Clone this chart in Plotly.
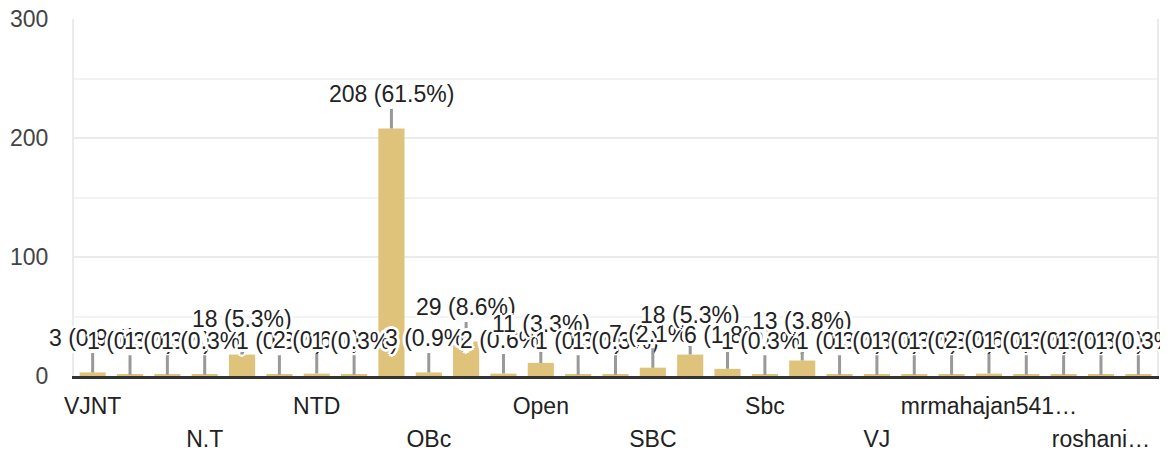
import plotly.graph_objects as go

# ---------------- data ----------------
categories = [
    "VJNT", "other 1", "other 2", "N.T", "other 4", "other 5", "NTD", "other 7",
    "other 8", "OBc", "other 10", "other 11", "Open", "other 13", "other 14",
    "SBC", "other 16", "other 17", "Sbc", "other 19", "other 20", "VJ",
    "other 22", "other 23", "mrmahajan541…", "other 25", "other 26",
    "roshani…", "other 28",
]
counts = [3, 1, 1, 1, 18, 1, 2, 1, 208, 3, 29, 2, 11, 1, 1, 7, 18, 6, 1, 13,
          1, 1, 1, 1, 2, 1, 1, 1, 1]
row1_labels = ["VJNT", "NTD", "Open", "Sbc", "mrmahajan541…"]
row2_labels = ["N.T", "OBc", "SBC", "VJ", "roshani…"]
y_ticks = [0, 100, 200, 300]

# ---------------- style ----------------
FONT = "Arial, Liberation Sans, sans-serif"
BAR_COLOR = "#e0c37b"
STEM = 19            # px from bar top to label box
BOX_H = 30           # approx label box height
label_lift = {4: 2, 12: 5, 16: 6, 19: 6}   # collision-avoidance lifts (px)
halo = ", ".join(
    f"{dx}px {dy}px 0 #fff" for dx, dy in
    [(2, 0), (-2, 0), (0, 2), (0, -2), (2, 2), (-2, -2), (2, -2), (-2, 2),
     (3, 0), (-3, 0), (0, 3), (0, -3), (1, 1), (-1, -1), (1, -1), (-1, 1)]
)

total = sum(counts)

fig = go.Figure()
fig.add_trace(go.Bar(
    x=categories, y=counts, marker=dict(color=BAR_COLOR, line=dict(width=0)),
    hoverinfo="x+y", showlegend=False,
))
# invisible trace so the second (row-2 label) axis knows the categories
fig.add_trace(go.Scatter(
    x=categories, y=[0] * len(categories), xaxis="x2", mode="markers",
    marker=dict(opacity=0), hoverinfo="skip", showlegend=False,
))

for i, (cat, v) in enumerate(zip(categories, counts)):
    pct = v / total * 100
    fig.add_annotation(
        x=cat, y=v, xref="x", yref="y",
        text=f"{v} ({pct:.1f}%)",
        showarrow=True, arrowhead=0, arrowwidth=3, arrowcolor="#999999",
        ax=0, ay=-(STEM + label_lift.get(i, 0) + BOX_H / 2),
        standoff=0, startstandoff=0,
        font=dict(family=FONT, size=23, color="#222222", shadow=halo),
    )

n = len(categories)
# the page body adds an 8px offset, so the figure is 8px smaller on each side
fig.update_layout(
    template="none",
    width=1160, height=445,
    margin=dict(l=66, r=11, t=11, b=77, autoexpand=False),
    paper_bgcolor="white", plot_bgcolor="white",
    bargap=0.3,
    font=dict(family=FONT),
    xaxis=dict(
        type="category", range=[-0.5, n - 0.5], automargin=False,
        tickmode="array", tickvals=row1_labels, ticktext=row1_labels,
        tickfont=dict(size=23, color="#222222", family=FONT),
        ticks="", showgrid=False, zeroline=False,
        showline=True, linecolor="#333333", linewidth=3,
        ticklabelstandoff=7, ticklabeloverflow="allow", fixedrange=True,
    ),
    xaxis2=dict(
        type="category", overlaying="x", anchor="y", side="bottom",
        range=[-0.5, n - 0.5], automargin=False,
        tickmode="array", tickvals=row2_labels, ticktext=row2_labels,
        tickfont=dict(size=23, color="#222222", family=FONT),
        ticks="", showgrid=False, zeroline=False, showline=False,
        ticklabelstandoff=47, ticklabeloverflow="allow", fixedrange=True,
    ),
    yaxis=dict(
        range=[0, 300], tickmode="array", tickvals=y_ticks, automargin=False,
        tickfont=dict(size=23, color="#444444", family=FONT),
        showgrid=True, gridcolor="#ebebeb", gridwidth=2,
        minor=dict(showgrid=True, dtick=50, tick0=0, gridcolor="#f3f3f3", gridwidth=2),
        showline=True, mirror=True, linecolor="#ebebeb", linewidth=2,
        zeroline=False, ticks="", ticklabelstandoff=19,
        ticklabeloverflow="allow", fixedrange=True,
    ),
)

fig.write_html("out.html")
